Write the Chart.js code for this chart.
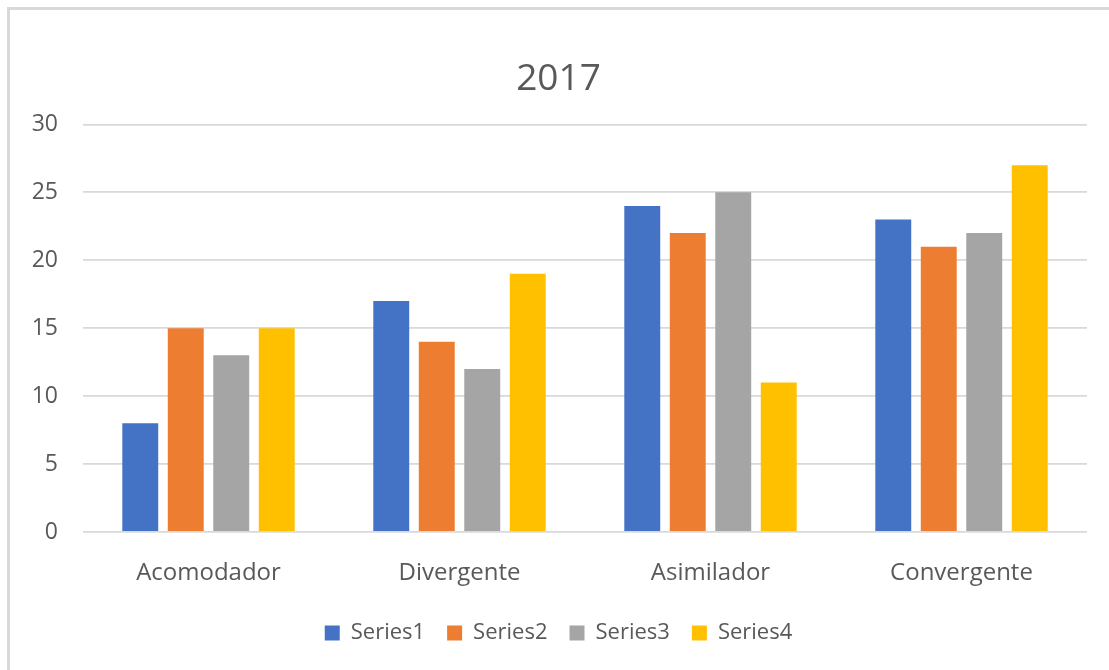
<!DOCTYPE html>
<html>
<head>
<meta charset="utf-8">
<script src="https://cdn.jsdelivr.net/npm/chart.js@4/dist/chart.umd.min.js"></script>
<style>
  html, body { margin: 0; padding: 0; background: #fff; overflow: hidden; }
  #frame { position: absolute; left: 7px; top: 7px; width: 1120px; height: 700px; border: 3px solid #d9d9d9; box-sizing: border-box; }
  #wrap { position: absolute; left: 0; top: 0; width: 1109px; height: 670px; }
</style>
</head>
<body>
<div id="frame"></div>
<div id="wrap"><canvas id="chart" width="1109" height="670"></canvas></div>
<script>
// data
const categories = ["Acomodador", "Divergente", "Asimilador", "Convergente"];
const seriesNames = ["Series1", "Series2", "Series3", "Series4"];
const series1 = [8, 17, 24, 23];
const series2 = [15, 14, 22, 21];
const series3 = [13, 12, 25, 22];
const series4 = [15, 19, 11, 27];
const seriesColors = ["#4472C4", "#ED7D31", "#A5A5A5", "#FFC000"];
const chartTitle = "2017";

const TEXT_COLOR = "#595959";
const FONT = "'Open Sans', 'Noto Sans', sans-serif";

const datasets = [series1, series2, series3, series4].map((values, i) => ({
  label: seriesNames[i],
  data: values,
  backgroundColor: seriesColors[i],
  borderWidth: 0,
  categoryPercentage: 0.725,
  barPercentage: 0.79
}));

new Chart(document.getElementById("chart"), {
  type: "bar",
  data: { labels: categories, datasets },
  options: {
    responsive: false,
    animation: false,
    layout: { padding: { left: 30, right: 22, top: 0, bottom: 16 } },
    plugins: {
      title: {
        display: true,
        text: chartTitle,
        color: TEXT_COLOR,
        font: { family: FONT, size: 37, weight: "normal" },
        padding: { top: 57, bottom: 23 }
      },
      legend: {
        position: "bottom",
        labels: {
          color: TEXT_COLOR,
          font: { family: FONT, size: 22 },
          boxWidth: 15,
          boxHeight: 15,
          padding: 22
        }
      },
      tooltip: { enabled: false }
    },
    scales: {
      x: {
        grid: { display: false },
        border: { display: false },
        ticks: { color: TEXT_COLOR, font: { family: FONT, size: 24 }, padding: 19 },
        afterFit: s => { s.height = 68; }
      },
      y: {
        min: 0,
        max: 30,
        ticks: { stepSize: 5, color: TEXT_COLOR, font: { family: FONT, size: 23 }, padding: 25 },
        grid: { color: "#d9d9d9", lineWidth: 1.8, drawTicks: false },
        border: { display: false },
        afterFit: s => { s.width = 53; }
      }
    }
  }
});
</script>
</body>
</html>
